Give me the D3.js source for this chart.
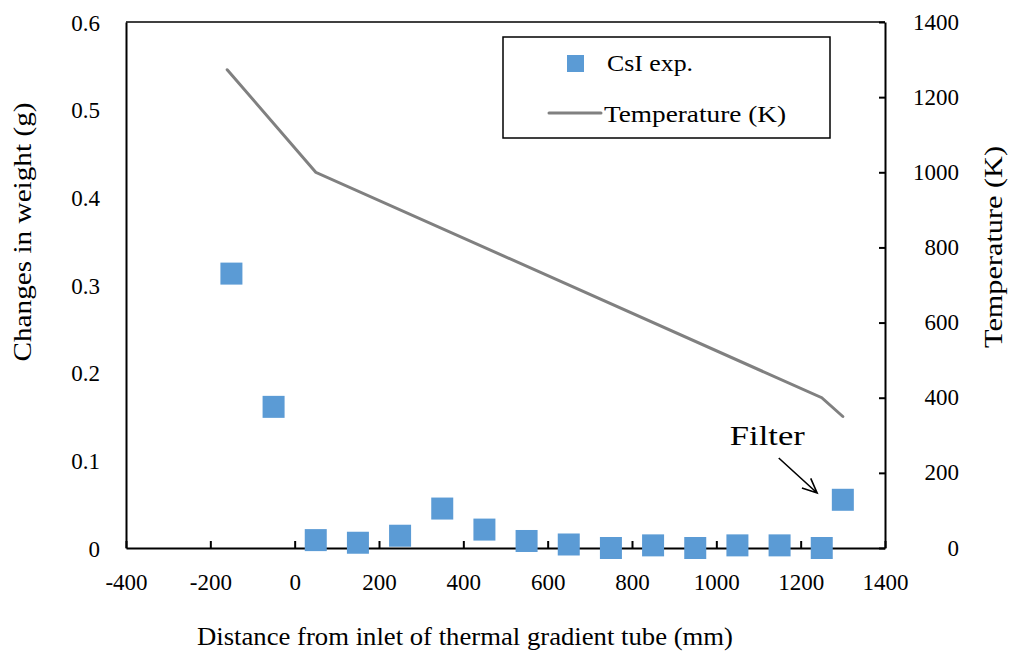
<!DOCTYPE html>
<html lang="en">
<head>
    <meta charset="UTF-8">
    <title>CsI deposition along thermal gradient tube</title>
    <script src="https://d3js.org/d3.v7.min.js"></script>
    <style>
        body {
            margin: 0;
            background: #fff;
        }
        text {
            font-family: "Liberation Serif", "Times New Roman", serif;
            fill: #000;
        }
        .domain {
            stroke: #000;
            stroke-width: 2px;
        }
        .tick line {
            stroke: #000;
            stroke-width: 2px;
        }
    </style>
</head>
<body>
    <div id="chart"></div>

    <script>
        // CsI weight change per tube section (g)
        const csiX = [-150, -50, 50, 150, 250, 350, 450, 550, 650, 750, 850, 950, 1050, 1150, 1250, 1300];
        const csiWeight = [0.313, 0.161, 0.009, 0.006, 0.014, 0.045, 0.021, 0.008, 0.004, 0.0, 0.003, 0.0, 0.003, 0.003, 0.0, 0.055];

        // temperature profile (K)
        const tempX = [-160, 50, 1250, 1300];
        const tempK = [1273, 1000, 400, 350];

        const xTicks = [-400, -200, 0, 200, 400, 600, 800, 1000, 1200, 1400];
        const yLeftTicks = [0, 0.1, 0.2, 0.3, 0.4, 0.5, 0.6];
        const yRightTicks = [0, 200, 400, 600, 800, 1000, 1200, 1400];

        const serif = '"Liberation Serif", "Times New Roman", serif';

        const margin = { top: 22, right: 128, bottom: 106, left: 126 },
              width = 1013 - margin.left - margin.right,
              height = 654 - margin.top - margin.bottom;

        const svg = d3.select("#chart").append("svg")
            .attr("width", 1013)
            .attr("height", 654);

        const g = svg.append("g")
            .attr("transform", `translate(${margin.left},${margin.top})`);

        const x = d3.scaleLinear().domain([-400, 1400]).range([0, width]);
        const yL = d3.scaleLinear().domain([0, 0.6]).range([height, 0]);
        const yR = d3.scaleLinear().domain([0, 1400]).range([height, 0]);

        // top border of plot area
        g.append("line")
            .attr("x1", 0).attr("x2", width)
            .attr("y1", 0).attr("y2", 0)
            .attr("stroke", "#000")
            .attr("stroke-width", 1.5);

        function styleTicks(sel) {
            sel.attr("font-family", serif).attr("font-size", 23);
            sel.selectAll("text").style("font-family", serif).style("font-size", "23px");
        }

        // x axis, ticks pointing inward
        const xAxis = g.append("g")
            .attr("transform", `translate(0,${height})`)
            .call(d3.axisBottom(x).tickValues(xTicks).tickSizeInner(-7).tickSizeOuter(0).tickFormat(d => String(d)));
        styleTicks(xAxis);
        xAxis.selectAll("text").attr("y", 42).attr("dy", null);

        // left axis
        const yAxisL = g.append("g")
            .call(d3.axisLeft(yL).tickValues(yLeftTicks).tickSize(0).tickFormat(d => d === 0 ? "0" : d.toFixed(1)));
        styleTicks(yAxisL);
        yAxisL.selectAll("text").attr("x", -26).attr("dy", null).attr("y", 8);

        // right axis
        const yAxisR = g.append("g")
            .attr("transform", `translate(${width},0)`)
            .call(d3.axisRight(yR).tickValues(yRightTicks).tickSizeInner(-6).tickSizeOuter(0).tickFormat(d => String(d)));
        styleTicks(yAxisR);
        yAxisR.selectAll("text")
            .attr("x", 74).attr("dy", null).attr("y", 7)
            .attr("text-anchor", "end");

        // temperature line
        const line = d3.line()
            .x((d, i) => x(tempX[i]))
            .y(d => yR(d));
        g.append("path")
            .datum(tempK)
            .attr("fill", "none")
            .attr("stroke", "#808080")
            .attr("stroke-width", 3)
            .attr("stroke-linecap", "round")
            .attr("d", line);

        // CsI squares
        const sq = 22;
        g.selectAll(".csi")
            .data(csiWeight)
            .enter().append("rect")
            .attr("class", "csi")
            .attr("x", (d, i) => x(csiX[i]) - sq / 2)
            .attr("y", d => yL(d) - sq / 2)
            .attr("width", sq)
            .attr("height", sq)
            .attr("fill", "#5B9BD5");

        // filter annotation
        g.append("text")
            .attr("x", x(1032))
            .attr("y", yL(0.1175))
            .attr("font-size", "27px")
            .attr("textLength", 75)
            .attr("lengthAdjust", "spacingAndGlyphs")
            .text("Filter");

        const a0 = [x(1148), yL(0.1027)], a1 = [x(1239), yL(0.0627)];
        const ang = Math.atan2(a1[1] - a0[1], a1[0] - a0[0]);
        const head = 16, spread = 0.42;
        g.append("path")
            .attr("fill", "none")
            .attr("stroke", "#000")
            .attr("stroke-width", 1.6)
            .attr("d",
                `M${a0[0]},${a0[1]}L${a1[0]},${a1[1]}` +
                `M${a1[0] - head * Math.cos(ang - spread)},${a1[1] - head * Math.sin(ang - spread)}L${a1[0]},${a1[1]}` +
                `L${a1[0] - head * Math.cos(ang + spread)},${a1[1] - head * Math.sin(ang + spread)}`);

        // axis titles
        svg.append("text")
            .attr("x", 465)
            .attr("y", 645)
            .attr("text-anchor", "middle")
            .attr("font-size", "26px")
            .attr("textLength", 536)
            .attr("lengthAdjust", "spacingAndGlyphs")
            .text("Distance from inlet of thermal gradient tube (mm)");

        svg.append("text")
            .attr("transform", "translate(31,232) rotate(-90)")
            .attr("text-anchor", "middle")
            .attr("font-size", "26px")
            .attr("textLength", 259)
            .attr("lengthAdjust", "spacingAndGlyphs")
            .text("Changes in weight  (g)");

        svg.append("text")
            .attr("transform", "translate(1002,247) rotate(-90)")
            .attr("text-anchor", "middle")
            .attr("font-size", "25px")
            .attr("textLength", 202)
            .attr("lengthAdjust", "spacingAndGlyphs")
            .text("Temperature (K)");

        // legend
        const legend = svg.append("g");
        legend.append("rect")
            .attr("x", 503).attr("y", 37)
            .attr("width", 327).attr("height", 101)
            .attr("fill", "#fff")
            .attr("stroke", "#000")
            .attr("stroke-width", 1.5);
        legend.append("rect")
            .attr("x", 567).attr("y", 55)
            .attr("width", 17).attr("height", 17)
            .attr("fill", "#5B9BD5");
        legend.append("text")
            .attr("x", 607).attr("y", 71)
            .attr("font-size", "24px")
            .attr("textLength", 86)
            .attr("lengthAdjust", "spacingAndGlyphs")
            .text("CsI exp.");
        legend.append("line")
            .attr("x1", 549).attr("x2", 601)
            .attr("y1", 113).attr("y2", 113)
            .attr("stroke", "#808080")
            .attr("stroke-width", 3)
            .attr("stroke-linecap", "round");
        legend.append("text")
            .attr("x", 604).attr("y", 122)
            .attr("font-size", "24px")
            .attr("textLength", 182)
            .attr("lengthAdjust", "spacingAndGlyphs")
            .text("Temperature (K)");
    </script>
</body>
</html>
